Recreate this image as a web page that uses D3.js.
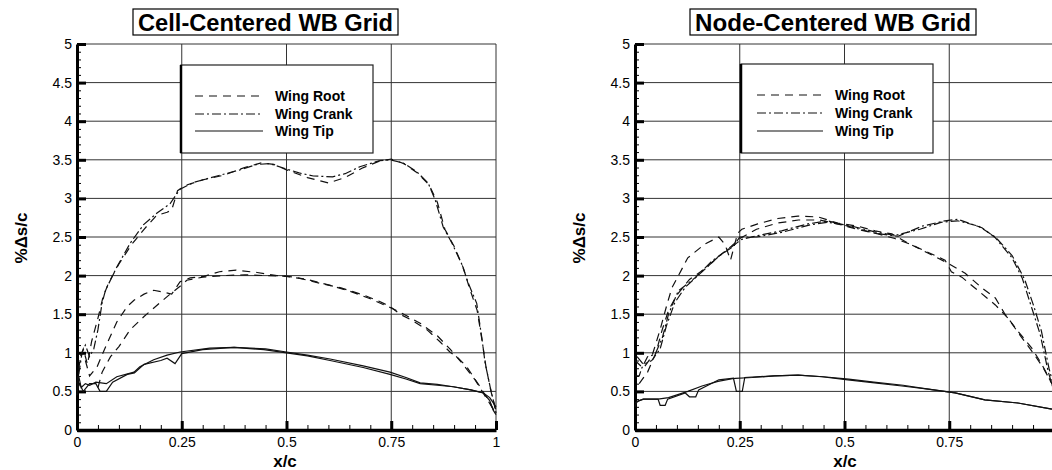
<!DOCTYPE html>
<html><head><meta charset="utf-8">
<script src="https://cdn.jsdelivr.net/npm/d3@7"></script>
<style>body{margin:0;background:#fff}svg{display:block}</style>
</head><body>
<svg id="c" width="1052" height="470"></svg>
<script>
// ---------- data ----------
const titles = ["Cell-Centered WB Grid", "Node-Centered WB Grid"];
const legendLabels = ["Wing Root", "Wing Crank", "Wing Tip"];
const yMajorTicks = [0,0.5,1,1.5,2,2.5,3,3.5,4,4.5,5];
const cellXTicks = [0,0.25,0.5,0.75,1];
const nodeXTicks = [0,0.25,0.5,0.75];
const xLabel = "x/c";
const yLabel = "%\u0394s/c";

// Cell-centered grid curves [x/c, %ds/c]
const cellRootA = [[0,0.6],[0.008,0.95],[0.015,1.05],[0.025,0.85],[0.035,1.15],[0.05,1.45],[0.062,1.72],[0.075,1.9],[0.1,2.15],[0.13,2.4],[0.16,2.6],[0.19,2.78],[0.215,2.82],[0.226,2.85],[0.24,3.1],[0.26,3.17],[0.3,3.24],[0.35,3.3],[0.4,3.4],[0.44,3.46],[0.47,3.44],[0.5,3.37],[0.55,3.27],[0.6,3.2],[0.64,3.27],[0.68,3.39],[0.72,3.48],[0.75,3.51],[0.78,3.45],[0.81,3.34],[0.84,3.18],[0.86,2.95],[0.878,2.6],[0.9,2.38],[0.922,2.1],[0.936,1.85],[0.955,1.55],[0.967,1.15],[0.976,0.82],[0.988,0.5],[1.0,0.25]];
const cellRootB = [[0.02,0.9],[0.03,0.7],[0.048,0.82],[0.07,1.1],[0.095,1.4],[0.12,1.6],[0.136,1.68],[0.16,1.76],[0.183,1.81],[0.21,1.78],[0.226,1.76],[0.246,1.92],[0.27,1.97],[0.303,1.99],[0.34,2.05],[0.38,2.07],[0.43,2.04],[0.477,2.0],[0.52,1.98],[0.58,1.9],[0.63,1.84],[0.683,1.75],[0.72,1.67],[0.747,1.6],[0.771,1.5],[0.8,1.42],[0.835,1.3],[0.865,1.15],[0.89,1.01],[0.91,0.93],[0.93,0.82],[0.962,0.56],[0.986,0.35],[1.0,0.2]];
const cellRootC = [[0.05,0.55],[0.06,0.75],[0.08,0.95],[0.1,1.08],[0.127,1.3],[0.16,1.47],[0.196,1.64],[0.22,1.75],[0.25,1.88],[0.262,1.94],[0.3,1.98],[0.35,2.0],[0.4,2.01],[0.45,2.0],[0.5,1.99],[0.55,1.95],[0.6,1.88],[0.65,1.8],[0.7,1.7],[0.75,1.58],[0.78,1.5],[0.82,1.38],[0.86,1.22],[0.89,1.05],[0.92,0.86],[0.95,0.65],[0.975,0.43],[0.99,0.3],[1.0,0.22]];
const cellCrankA = [[0,0.5],[0.005,0.75],[0.012,1.0],[0.02,1.1],[0.03,0.95],[0.04,1.05],[0.05,1.3],[0.06,1.65],[0.068,1.81],[0.095,2.11],[0.127,2.42],[0.159,2.66],[0.191,2.81],[0.222,2.93],[0.246,3.12],[0.28,3.21],[0.334,3.29],[0.389,3.37],[0.43,3.44],[0.46,3.45],[0.494,3.39],[0.53,3.33],[0.564,3.29],[0.61,3.28],[0.64,3.32],[0.675,3.41],[0.723,3.49],[0.747,3.5],[0.778,3.46],[0.81,3.35],[0.838,3.2],[0.855,2.98],[0.874,2.63],[0.895,2.42],[0.919,2.14],[0.934,1.9],[0.954,1.64],[0.966,1.2],[0.974,0.87],[0.986,0.56],[0.995,0.35],[1.0,0.22]];
const cellTipA = [[0,0.45],[0.004,0.7],[0.01,0.55],[0.02,0.6],[0.03,0.58],[0.045,0.62],[0.07,0.6],[0.095,0.69],[0.136,0.75],[0.15,0.82],[0.183,0.91],[0.215,0.97],[0.246,1.01],[0.317,1.06],[0.375,1.07],[0.446,1.04],[0.5,1.0],[0.55,0.96],[0.604,0.9],[0.683,0.81],[0.747,0.72],[0.785,0.66],[0.819,0.6],[0.86,0.58],[0.898,0.56],[0.94,0.52],[0.97,0.48],[0.985,0.38],[0.993,0.26],[1.0,0.2]];
const cellTipB = [[0,0.5],[0.006,0.6],[0.015,0.5],[0.03,0.6],[0.045,0.6],[0.055,0.5],[0.07,0.5],[0.085,0.62],[0.12,0.72],[0.137,0.74],[0.16,0.85],[0.2,0.9],[0.215,0.93],[0.234,0.86],[0.25,0.99],[0.3,1.04],[0.375,1.07],[0.45,1.05],[0.5,1.01],[0.55,0.97],[0.604,0.92],[0.683,0.83],[0.747,0.75],[0.785,0.68],[0.819,0.61],[0.86,0.59],[0.898,0.56],[0.94,0.52],[0.97,0.48],[0.985,0.42],[1.0,0.3]];

// Node-centered grid curves
const nodeRootA = [[0,0.9],[0.02,0.8],[0.04,0.95],[0.06,1.3],[0.075,1.6],[0.088,1.84],[0.126,2.23],[0.167,2.41],[0.2,2.5],[0.215,2.4],[0.228,2.2],[0.245,2.55],[0.255,2.6],[0.293,2.67],[0.341,2.74],[0.389,2.77],[0.437,2.76],[0.484,2.68],[0.532,2.64],[0.573,2.58],[0.613,2.54],[0.652,2.42],[0.7,2.29],[0.747,2.16],[0.788,2.03],[0.828,1.84],[0.86,1.71],[0.883,1.5],[0.914,1.28],[0.947,1.06],[0.971,0.85],[0.995,0.6]];
const nodeRootB = [[0.01,0.6],[0.03,0.75],[0.05,1.0],[0.065,1.3],[0.08,1.55],[0.1,1.75],[0.13,1.95],[0.17,2.1],[0.2,2.25],[0.23,2.38],[0.25,2.48],[0.29,2.6],[0.34,2.68],[0.39,2.72],[0.44,2.72],[0.49,2.66],[0.53,2.6],[0.58,2.54],[0.62,2.48],[0.66,2.4],[0.7,2.3],[0.74,2.2],[0.755,2.05],[0.78,1.98],[0.82,1.8],[0.86,1.62],[0.89,1.45],[0.92,1.22],[0.95,1.0],[0.975,0.8],[1.0,0.55]];
const nodeCrankA = [[0,0.7],[0.01,0.7],[0.016,0.8],[0.03,0.95],[0.048,0.98],[0.065,1.19],[0.08,1.5],[0.103,1.8],[0.143,1.97],[0.184,2.19],[0.222,2.34],[0.255,2.47],[0.286,2.51],[0.35,2.58],[0.413,2.67],[0.46,2.71],[0.508,2.64],[0.572,2.55],[0.628,2.51],[0.685,2.64],[0.74,2.71],[0.77,2.73],[0.828,2.62],[0.86,2.49],[0.9,2.23],[0.924,1.97],[0.947,1.58],[0.967,1.24],[0.986,0.76],[1.0,0.5]];
const nodeCrankB = [[0.005,0.95],[0.02,0.85],[0.04,0.9],[0.06,1.05],[0.075,1.35],[0.095,1.65],[0.12,1.85],[0.16,2.05],[0.2,2.25],[0.235,2.38],[0.25,2.5],[0.29,2.5],[0.35,2.56],[0.42,2.66],[0.46,2.69],[0.51,2.65],[0.57,2.57],[0.62,2.52],[0.68,2.6],[0.73,2.69],[0.77,2.71],[0.82,2.64],[0.86,2.5],[0.9,2.26],[0.93,1.95],[0.952,1.6],[0.97,1.28],[0.988,0.8],[1.0,0.55]];
const nodeTipA = [[0,0.3],[0.005,0.37],[0.02,0.4],[0.055,0.4],[0.08,0.42],[0.126,0.5],[0.16,0.57],[0.198,0.63],[0.239,0.67],[0.28,0.68],[0.334,0.7],[0.389,0.71],[0.446,0.69],[0.508,0.65],[0.572,0.61],[0.637,0.57],[0.7,0.53],[0.764,0.48],[0.835,0.39],[0.914,0.35],[0.995,0.27]];
const nodeTipB = [[0,0.35],[0.01,0.38],[0.02,0.4],[0.055,0.4],[0.06,0.32],[0.072,0.32],[0.078,0.4],[0.12,0.48],[0.13,0.43],[0.145,0.43],[0.152,0.52],[0.2,0.65],[0.235,0.67],[0.242,0.5],[0.256,0.5],[0.262,0.68],[0.33,0.7],[0.39,0.71],[0.45,0.69],[0.51,0.66],[0.57,0.62],[0.64,0.58],[0.7,0.53],[0.764,0.48],[0.835,0.39],[0.914,0.35],[0.995,0.27]];

// ---------- drawing ----------
const FONT = "'Liberation Sans', Arial, Helvetica, sans-serif";
const DASH = {root:"8,6", crank:"9,3,2,3", tip:null};
const svg = d3.select("#c");

const panels = [
  {title:titles[0], x0:77, x1:496, y0:430, y1:44, xTicks:cellXTicks,
   titleBox:[133,9,265,26], legendBox:[181,65,192,88], legLine:[195,263], legText:275, legY:[96,114,131],
   yLabX:27, xLabX:285,
   curves:[["root",cellRootA],["root",cellRootB],["root",cellRootC],["crank",cellCrankA],["tip",cellTipA],["tip",cellTipB]]},
  {title:titles[1], x0:635, x1:1054, y0:430, y1:44, xTicks:nodeXTicks,
   titleBox:[690,9,286,26], legendBox:[741,64,192,89], legLine:[757,823], legText:835, legY:[95,113,131],
   yLabX:585, xLabX:845,
   curves:[["root",nodeRootA],["root",nodeRootB],["crank",nodeCrankA],["crank",nodeCrankB],["tip",nodeTipA],["tip",nodeTipB]]}
];

panels.forEach(p => {
  const x = d3.scaleLinear().domain([0,1]).range([p.x0,p.x1]);
  const y = d3.scaleLinear().domain([0,5]).range([p.y0,p.y1]);
  const g = svg.append("g");

  // grid
  g.selectAll(".gx").data([0.25,0.5,0.75,1]).join("line")
    .attr("x1",d=>x(d)).attr("x2",d=>x(d)).attr("y1",y(0)).attr("y2",y(5))
    .attr("stroke","#333").attr("stroke-width",1);
  g.selectAll(".gy").data(yMajorTicks.slice(1)).join("line")
    .attr("x1",x(0)).attr("x2",x(1)).attr("y1",d=>y(d)).attr("y2",d=>y(d))
    .attr("stroke","#333").attr("stroke-width",1);

  // minor ticks
  const yMinor = d3.range(0,5.001,0.1).map(v=>+v.toFixed(2));
  const xMinor = d3.range(0,1.001,0.05).map(v=>+v.toFixed(2));
  g.append("g").attr("transform",`translate(${p.x0},0)`)
    .call(d3.axisLeft(y).tickValues(yMinor).tickSizeInner(-4).tickSizeOuter(0).tickFormat(""))
    .call(a=>a.select(".domain").remove())
    .selectAll("line").attr("stroke","#000").attr("stroke-width",1);
  g.append("g").attr("transform",`translate(0,${p.y0})`)
    .call(d3.axisBottom(x).tickValues(xMinor).tickSizeInner(-5).tickSizeOuter(0).tickFormat(""))
    .call(a=>a.select(".domain").remove())
    .selectAll("line").attr("stroke","#000").attr("stroke-width",1);

  // major axes
  const ya = g.append("g").attr("transform",`translate(${p.x0},0)`)
    .call(d3.axisLeft(y).tickValues(yMajorTicks).tickSizeInner(-9).tickSizeOuter(0).tickPadding(5).tickFormat(d=>String(d)));
  ya.select(".domain").attr("stroke","#000").attr("stroke-width",3);
  ya.selectAll("line").attr("stroke","#000").attr("stroke-width",3);
  ya.selectAll("text").attr("font-family",FONT).attr("font-size",14).attr("fill","#000");

  const xa = g.append("g").attr("transform",`translate(0,${p.y0})`)
    .call(d3.axisBottom(x).tickValues(p.xTicks).tickSizeInner(-9).tickSizeOuter(0).tickPadding(7).tickFormat(d=>String(d)));
  xa.select(".domain").attr("stroke","#000").attr("stroke-width",3.5);
  xa.selectAll("line").attr("stroke","#000").attr("stroke-width",3);
  xa.selectAll("text").attr("font-family",FONT).attr("font-size",14).attr("fill","#000");

  // legend box (over grid)
  const [lx,ly,lw,lh] = p.legendBox;
  g.append("rect").attr("x",lx).attr("y",ly).attr("width",lw).attr("height",lh)
    .attr("fill","#fff").attr("stroke","#222").attr("stroke-width",1.2);
  g.append("line").attr("x1",lx).attr("x2",lx).attr("y1",ly).attr("y2",ly+lh).attr("stroke","#000").attr("stroke-width",2.5);
  const keys = ["root","crank","tip"];
  keys.forEach((k,i)=>{
    g.append("line").attr("x1",p.legLine[0]).attr("x2",p.legLine[1])
      .attr("y1",p.legY[i]).attr("y2",p.legY[i])
      .attr("stroke","#111").attr("stroke-width",1.1)
      .attr("stroke-dasharray",DASH[k]);
    g.append("text").attr("x",p.legText).attr("y",p.legY[i]+5)
      .attr("font-family",FONT).attr("font-weight","bold").attr("font-size",14)
      .text(legendLabels[i]);
  });

  // curves
  const line = d3.line().x(d=>x(d[0])).y(d=>y(d[1]));
  g.selectAll(".curve").data(p.curves).join("path")
    .attr("d",d=>line(d[1]))
    .attr("fill","none").attr("stroke","#111").attr("stroke-width",1.2)
    .attr("stroke-dasharray",d=>DASH[d[0]]);

  // title
  const [tx,ty,tw,th] = p.titleBox;
  g.append("rect").attr("x",tx).attr("y",ty).attr("width",tw).attr("height",th)
    .attr("fill","#fff").attr("stroke","#000").attr("stroke-width",1.2);
  g.append("text").attr("x",tx+tw/2).attr("y",ty+22).attr("text-anchor","middle")
    .attr("font-family",FONT).attr("font-weight","bold").attr("font-size",23)
    .attr("textLength",tw-10).attr("lengthAdjust","spacingAndGlyphs")
    .text(p.title);

  // axis labels
  g.append("text").attr("x",p.xLabX).attr("y",467).attr("text-anchor","middle")
    .attr("font-family",FONT).attr("font-weight","bold").attr("font-size",17).text(xLabel);
  g.append("text").attr("transform",`translate(${p.yLabX},238) rotate(-90)`).attr("text-anchor","middle")
    .attr("font-family",FONT).attr("font-weight","bold").attr("font-size",17).text(yLabel);
});
</script>
</body></html>
